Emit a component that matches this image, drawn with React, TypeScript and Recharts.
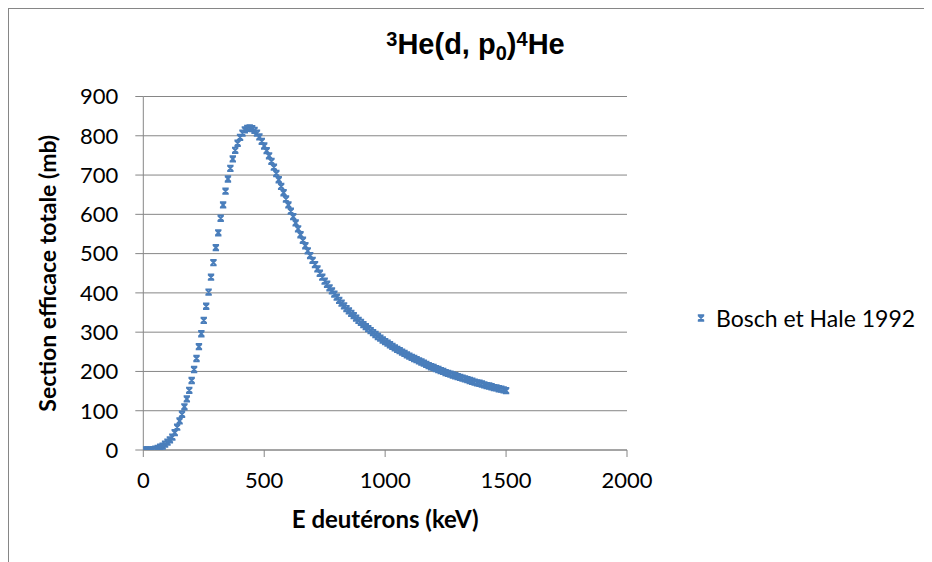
import React from "react";
import { ScatterChart, Scatter, XAxis, YAxis, CartesianGrid, Label } from "recharts";

const energies: number[] = [
  0, 10, 20, 30, 40, 50, 60, 70, 80, 90,
  100, 110, 120, 130, 140, 150, 160, 170, 180, 190,
  200, 210, 220, 230, 240, 250, 260, 270, 280, 290,
  300, 310, 320, 330, 340, 350, 360, 370, 380, 390,
  400, 410, 420, 430, 440, 450, 460, 470, 480, 490,
  500, 510, 520, 530, 540, 550, 560, 570, 580, 590,
  600, 610, 620, 630, 640, 650, 660, 670, 680, 690,
  700, 710, 720, 730, 740, 750, 760, 770, 780, 790,
  800, 810, 820, 830, 840, 850, 860, 870, 880, 890,
  900, 910, 920, 930, 940, 950, 960, 970, 980, 990,
  1000, 1010, 1020, 1030, 1040, 1050, 1060, 1070, 1080, 1090,
  1100, 1110, 1120, 1130, 1140, 1150, 1160, 1170, 1180, 1190,
  1200, 1210, 1220, 1230, 1240, 1250, 1260, 1270, 1280, 1290,
  1300, 1310, 1320, 1330, 1340, 1350, 1360, 1370, 1380, 1390,
  1400, 1410, 1420, 1430, 1440, 1450, 1460, 1470, 1480, 1490,
  1500,
];

const crossSection: number[] = [
  0, 0, 0, 0.2, 0.8, 2, 4, 7, 10, 15,
  20, 26, 33, 44, 58, 74, 91, 110, 130, 152,
  177, 205, 233, 263, 296, 330, 366, 402, 440, 477,
  515, 553, 590, 624, 659, 690, 717, 741, 763, 781,
  796, 807, 815, 819, 820, 818, 814, 807, 797, 786,
  774, 762, 749, 735, 720, 704, 688, 671, 655, 639,
  624, 608, 594, 578, 563, 548, 534, 520, 507, 495,
  483, 472, 461, 450, 440, 430, 422, 413, 405, 397,
  389, 381, 374, 367, 360, 354, 348, 342, 336, 330,
  325, 319, 314, 309, 304, 299, 294, 289, 285, 280,
  276, 272, 268, 264, 260, 256, 253, 249, 246, 242,
  239, 236, 233, 230, 227, 224, 221, 218, 215, 212,
  210, 207, 205, 202, 200, 197, 195, 193, 191, 189,
  187, 185, 183, 181, 179, 177, 175, 173, 171, 170,
  168, 166, 164, 163, 161, 159, 158, 156, 155, 153,
  151,
];

const xTicks: number[] = [0, 500, 1000, 1500, 2000];
const yTicks: number[] = [0, 100, 200, 300, 400, 500, 600, 700, 800, 900];

const seriesName = "Bosch et Hale 1992";
const data = energies.map((e, i) => ({ e, s: crossSection[i] }));

const BLUE = "#4A7EBB";
const GRAY = "#868686";

const XMarker = (props: any) => {
  const { cx, cy } = props;
  if (cx == null || cy == null) return null;
  const h = 2.7;
  return (
    <path
      d={`M${cx - h},${cy - h}L${cx + h},${cy + h}M${cx + h},${cy - h}L${cx - h},${cy + h}M${cx - h - 0.5},${cy - h}L${cx + h + 0.5},${cy - h}M${cx - h - 0.5},${cy + h}L${cx + h + 0.5},${cy + h}`}
      stroke={BLUE}
      strokeWidth={1.9}
      fill="none"
    />
  );
};

export default function App() {
  return (
    <div>
      <style>{"html,body{overflow:hidden}"}</style>
      <div
        style={{
          position: "relative",
          width: 923,
          height: 553,
          borderTop: `1px solid ${GRAY}`,
          borderLeft: `1px solid ${GRAY}`,
          background: "#fff",
        }}
      >
        <div
          style={{
            position: "absolute",
            left: 0,
            width: 933,
            top: 19,
            textAlign: "center",
            fontFamily: "'Liberation Sans', Arial, sans-serif",
            fontWeight: "bold",
            fontSize: 29,
            lineHeight: "32px",
            color: "#000",
            zIndex: 2,
          }}
        >
          <span style={{ fontSize: 20, position: "relative", top: -8 }}>3</span>
          He(d, p
          <span style={{ fontSize: 20, position: "relative", top: 6 }}>0</span>)
          <span style={{ fontSize: 20, position: "relative", top: -8 }}>4</span>
          He
        </div>
        <div
          style={{
            position: "absolute",
            left: 686,
            top: 295,
            display: "flex",
            alignItems: "center",
            fontFamily: "Lato",
            fontSize: 23,
            lineHeight: "28px",
            color: "#000",
            whiteSpace: "nowrap",
            zIndex: 2,
          }}
        >
          <svg width={12} height={12} style={{ marginRight: 9 }}>
            <XMarker cx={6} cy={6} />
          </svg>
          <span>{seriesName}</span>
        </div>
        <ScatterChart
          width={923}
          height={553}
          margin={{ top: 87.5, right: 305, left: 0, bottom: 52 }}
        >
          <CartesianGrid horizontal={true} vertical={false} stroke={GRAY} strokeWidth={1} />
          <XAxis
            type="number"
            dataKey="e"
            domain={[0, 2000]}
            ticks={xTicks}
            allowDataOverflow
            height={60}
            tickSize={7}
            tickMargin={15}
            axisLine={{ stroke: GRAY }}
            tickLine={{ stroke: GRAY }}
            tick={{ fill: "#000", fontFamily: "Lato", fontSize: 22 }}
          >
            <Label
              value="E deutérons (keV)"
              position="bottom"
              offset={1}
              style={{ fill: "#000", fontFamily: "Lato", fontWeight: "bold", fontSize: 24 }}
            />
          </XAxis>
          <YAxis
            type="number"
            dataKey="s"
            domain={[0, 900]}
            ticks={yTicks}
            allowDataOverflow
            width={134.3}
            tickSize={8}
            tickMargin={17}
            axisLine={{ stroke: GRAY }}
            tickLine={{ stroke: GRAY }}
            tick={{ fill: "#000", fontFamily: "Lato", fontSize: 22 }}
          >
            <Label
              value="Section efficace totale (mb)"
              angle={-90}
              position="insideLeft"
              offset={39}
              style={{ textAnchor: "middle", fill: "#000", fontFamily: "Lato", fontWeight: "bold", fontSize: 23 }}
            />
          </YAxis>
          <Scatter
            name={seriesName}
            data={data}
            shape={<XMarker />}
            isAnimationActive={false}
          />
        </ScatterChart>
      </div>
    </div>
  );
}
